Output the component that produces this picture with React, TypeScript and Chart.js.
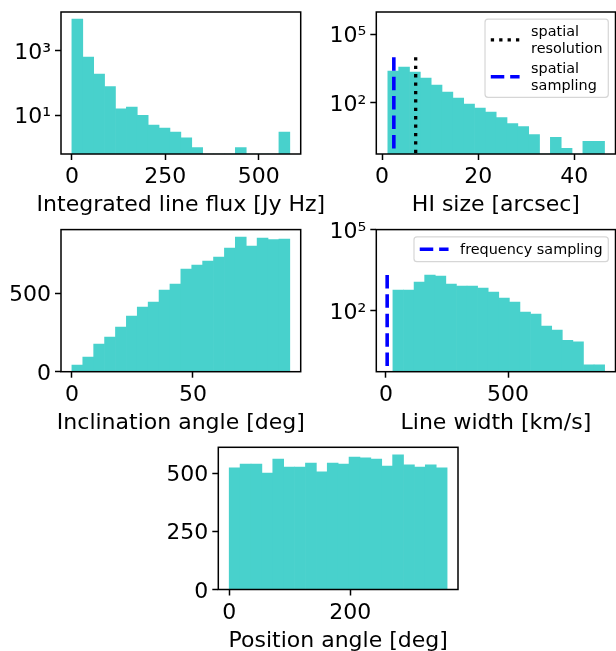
import React, { useEffect, useRef } from 'react';
import { Chart, registerables } from 'chart.js';

Chart.register(...registerables);

// ---------------- data ----------------
// Panel 1: integrated line flux
const fluxBinStart = 0;
const fluxBinWidth = 29.14;
const fluxCounts = [9600, 640, 190, 77, 16, 18, 10, 5, 4, 3, 2, 1, 0, 0, 0, 1, 0, 0, 0, 3];
const fluxXTicks = [0, 250, 500];
const fluxYTicks = [10, 1000];

// Panel 2: HI size
const sizeBinStart = 1.2;
const sizeBinWidth = 2.256;
const sizeCounts = [2455, 3680, 2220, 1210, 597, 294, 160, 87, 58, 39, 22, 12, 9, 4, 0, 3, 1, 0, 2, 2];
const sizeXTicks = [0, 20, 40];
const sizeYTicks = [100, 100000];
const spatialResolution = 7.0;
const spatialSampling = 2.45;
const sizeLineTop = 9800;

// Panel 3: inclination
const inclBinStart = 0;
const inclBinWidth = 4.5;
const inclCounts = [43, 94, 177, 221, 285, 355, 413, 445, 521, 560, 655, 681, 706, 732, 789, 860, 802, 853, 843, 847];
const inclXTicks = [0, 50];
const inclYTicks = [0, 500];

// Panel 4: line width
const widthBinStart = 28.5;
const widthBinWidth = 43.35;
const widthCounts = [582, 582, 1153, 2094, 1923, 972, 820, 820, 691, 491, 294, 209, 89, 75, 27, 19, 8, 7, 1, 1];
const widthXTicks = [0, 500];
const widthYTicks = [100, 100000];
const frequencySampling = 5;
const widthLineTop = 2094;

// Panel 5: position angle
const paBinStart = 0;
const paBinWidth = 18;
const paCounts = [523, 540, 540, 501, 561, 527, 527, 544, 506, 544, 540, 570, 566, 561, 531, 579, 536, 527, 536, 523];
const paXTicks = [0, 200];
const paYTicks = [0, 250, 500];

// ---------------- styling ----------------
const FONT = 'DejaVu Sans';
const TURQ = '#48D1CC';
const W = 616;
const H = 651;
const YW = 50;
const XH = 40;
const SUP: Record<string, string> = { '0': '⁰', '1': '¹', '2': '²', '3': '³', '4': '⁴', '5': '⁵', '6': '⁶', '7': '⁷', '8': '⁸', '9': '⁹', '-': '⁻' };

function histBars(start: number, width: number, counts: number[]) {
  return {
    type: 'bar',
    label: 'counts',
    data: counts.map((c, i) => ({ x: start + (i + 0.5) * width, y: c })),
    backgroundColor: TURQ,
    borderWidth: 0,
    barPercentage: 1,
    categoryPercentage: 1,
    order: 1,
  };
}

function vline(label: string, x: number, y0: number, y1: number, color: string, dash: number[], width: number) {
  return {
    type: 'line',
    label,
    data: [{ x, y: y1 }, { x, y: y0 }],
    borderColor: color,
    borderDash: dash,
    borderWidth: width,
    borderCapStyle: 'butt',
    pointRadius: 0,
    fill: false,
    tension: 0,
    order: 0,
  };
}

const framePlugin = {
  id: 'mplFrame',
  afterDatasetsDraw(chart: any) {
    const { ctx, chartArea: a } = chart;
    ctx.save();
    ctx.strokeStyle = '#000';
    ctx.lineWidth = 1.5;
    ctx.strokeRect(a.left, a.top, a.right - a.left, a.bottom - a.top);
    ctx.restore();
  },
};

const xLabelPlugin = {
  id: 'xLabel',
  afterDraw(chart: any, _args: any, opts: any) {
    if (!opts || !opts.text) return;
    const { ctx, chartArea: a } = chart;
    ctx.save();
    ctx.font = `22px "${FONT}"`;
    ctx.fillStyle = '#000';
    ctx.textAlign = 'center';
    ctx.textBaseline = 'alphabetic';
    ctx.fillText(opts.text, (a.left + a.right) / 2, a.bottom + 57.3);
    ctx.restore();
  },
};

const legendPlugin = {
  id: 'mplLegend',
  afterDatasetsDraw(chart: any, _args: any, opts: any) {
    if (!opts || !opts.display) return;
    const items = chart.data.datasets.filter((d: any) => d.type === 'line');
    if (!items.length) return;
    const { ctx, chartArea: a } = chart;
    const fs = 14.4;
    ctx.save();
    ctx.font = `${fs}px "${FONT}"`;
    const lines = items.map((d: any) => String(d.label).split('\n'));
    let textW = 0;
    lines.forEach((ls: string[]) => ls.forEach((s) => { textW = Math.max(textW, ctx.measureText(s).width); }));
    const pad = 0.4 * fs, handle = 2 * fs, tpad = 0.8 * fs, lsp = 0.5 * fs;
    const lineStep = 16.3;
    const entryH = (n: number) => 13.4 + lineStep * (n - 1);
    const w = pad + handle + tpad + textW + pad;
    let h = pad * 2;
    lines.forEach((ls: string[], i: number) => { h += entryH(ls.length) + (i > 0 ? lsp : 0); });
    const bx = a.right - 0.5 * fs - w;
    const by = a.top + 0.5 * fs;
    const r = 3;
    ctx.beginPath();
    ctx.moveTo(bx + r, by);
    ctx.lineTo(bx + w - r, by);
    ctx.quadraticCurveTo(bx + w, by, bx + w, by + r);
    ctx.lineTo(bx + w, by + h - r);
    ctx.quadraticCurveTo(bx + w, by + h, bx + w - r, by + h);
    ctx.lineTo(bx + r, by + h);
    ctx.quadraticCurveTo(bx, by + h, bx, by + h - r);
    ctx.lineTo(bx, by + r);
    ctx.quadraticCurveTo(bx, by, bx + r, by);
    ctx.closePath();
    ctx.fillStyle = 'rgba(255,255,255,0.8)';
    ctx.fill();
    ctx.strokeStyle = 'rgba(204,204,204,0.8)';
    ctx.lineWidth = 1.2;
    ctx.stroke();
    let ey = by + pad;
    items.forEach((d: any, i: number) => {
      const ls = lines[i];
      const eh = entryH(ls.length);
      const cy = ey + eh / 2;
      ctx.save();
      ctx.beginPath();
      ctx.setLineDash(d.borderDash || []);
      ctx.lineCap = 'butt';
      ctx.strokeStyle = d.borderColor;
      ctx.lineWidth = d.borderWidth;
      ctx.moveTo(bx + pad, cy);
      ctx.lineTo(bx + pad + handle, cy);
      ctx.stroke();
      ctx.restore();
      ctx.fillStyle = '#000';
      ctx.textAlign = 'left';
      ctx.textBaseline = 'alphabetic';
      ls.forEach((s: string, k: number) => {
        ctx.fillText(s, bx + pad + handle + tpad, ey + 11.5 + lineStep * k);
      });
      ey += eh + lsp;
    });
    ctx.restore();
  },
};

type Panel = {
  area: { l: number; t: number; r: number; b: number };
  xLabel: string;
  xMin: number;
  xMax: number;
  xTicks: number[];
  yLog: boolean;
  yMin: number;
  yMax: number;
  yTicks: number[];
  datasets: any[];
  legend: boolean;
};

const FLUX_YMIN = 0.634, FLUX_YMAX = 15780;
const SIZE_YMIN = 0.562, SIZE_YMAX = 950600;
const WIDTH_YMIN = 0.551, WIDTH_YMAX = 100000;

const panels: Panel[] = [
  {
    area: { l: 61, t: 12, r: 300.7, b: 154 },
    xLabel: 'Integrated line flux [Jy Hz]',
    xMin: -29.1, xMax: 611.9, xTicks: fluxXTicks,
    yLog: true, yMin: FLUX_YMIN, yMax: FLUX_YMAX, yTicks: fluxYTicks,
    datasets: [histBars(fluxBinStart, fluxBinWidth, fluxCounts)],
    legend: false,
  },
  {
    area: { l: 376.3, t: 12, r: 615.5, b: 154 },
    xLabel: 'HI size [arcsec]',
    xMin: -1.2, xMax: 48.6, xTicks: sizeXTicks,
    yLog: true, yMin: SIZE_YMIN, yMax: SIZE_YMAX, yTicks: sizeYTicks,
    datasets: [
      vline('spatial\nresolution', spatialResolution, SIZE_YMIN, sizeLineTop, '#000', [3.3, 5.1], 3.3),
      vline('spatial\nsampling', spatialSampling, SIZE_YMIN, sizeLineTop, '#0000ff', [13.5, 5.9], 3.6),
      histBars(sizeBinStart, sizeBinWidth, sizeCounts),
    ],
    legend: true,
  },
  {
    area: { l: 61, t: 229.6, r: 300.7, b: 371.7 },
    xLabel: 'Inclination angle [deg]',
    xMin: -4.5, xMax: 94.5, xTicks: inclXTicks,
    yLog: false, yMin: 0, yMax: 907, yTicks: inclYTicks,
    datasets: [histBars(inclBinStart, inclBinWidth, inclCounts)],
    legend: false,
  },
  {
    area: { l: 376.3, t: 229.6, r: 615.5, b: 371.7 },
    xLabel: 'Line width [km/s]',
    xMin: -39.5, xMax: 940, xTicks: widthXTicks,
    yLog: true, yMin: WIDTH_YMIN, yMax: WIDTH_YMAX, yTicks: widthYTicks,
    datasets: [
      vline('frequency sampling', frequencySampling, WIDTH_YMIN, widthLineTop, '#0000ff', [13.5, 5.9], 3.6),
      histBars(widthBinStart, widthBinWidth, widthCounts),
    ],
    legend: true,
  },
  {
    area: { l: 218.3, t: 447.3, r: 458, b: 589.5 },
    xLabel: 'Position angle [deg]',
    xMin: -18, xMax: 378, xTicks: paXTicks,
    yLog: false, yMin: 0, yMax: 611.7, yTicks: paYTicks,
    datasets: [histBars(paBinStart, paBinWidth, paCounts)],
    legend: false,
  },
];

function logLabel(v: number) {
  const e = String(Math.round(Math.log10(v)));
  return '10' + e.split('').map((c) => SUP[c] || c).join('');
}

function buildConfig(p: Panel): any {
  const tickFont = { family: FONT, size: 22, lineHeight: 1 };
  const grid = {
    display: true,
    drawOnChartArea: false,
    drawTicks: true,
    tickLength: 6,
    tickWidth: 1.5,
    tickColor: '#000',
    offset: false,
  };
  return {
    type: 'bar',
    data: { datasets: p.datasets },
    options: {
      responsive: false,
      animation: false,
      events: [],
      layout: {
        padding: {
          left: p.area.l - YW,
          top: p.area.t,
          right: W - p.area.r,
          bottom: H - p.area.b - XH,
        },
      },
      plugins: {
        legend: { display: false },
        tooltip: { enabled: false },
        title: { display: false },
        xLabel: { text: p.xLabel },
        mplLegend: { display: p.legend },
      },
      scales: {
        x: {
          type: 'linear',
          position: 'bottom',
          min: p.xMin,
          max: p.xMax,
          bounds: 'data',
          offset: false,
          grid,
          border: { display: false },
          ticks: {
            font: tickFont,
            color: '#000',
            padding: 6.3,
            autoSkip: false,
            maxRotation: 0,
            minRotation: 0,
            callback: (v: any) => String(v),
          },
          afterBuildTicks: (s: any) => { s.ticks = p.xTicks.map((v) => ({ value: v })); },
          afterFit: (s: any) => { s.height = XH; s.paddingLeft = 0; s.paddingRight = 0; },
        },
        y: {
          type: p.yLog ? 'logarithmic' : 'linear',
          position: 'left',
          min: p.yMin,
          max: p.yMax,
          bounds: 'data',
          grid,
          border: { display: false },
          ticks: {
            font: tickFont,
            color: '#000',
            padding: 4,
            labelOffset: 2.3,
            autoSkip: false,
            callback: (v: any) => (p.yLog ? logLabel(Number(v)) : String(v)),
          },
          afterBuildTicks: (s: any) => { s.ticks = p.yTicks.map((v) => ({ value: v })); },
          afterFit: (s: any) => { s.width = YW; s.paddingTop = 0; s.paddingBottom = 0; },
        },
      },
    },
    plugins: [framePlugin, legendPlugin, xLabelPlugin],
  };
}

export default function App() {
  const refs = useRef<(HTMLCanvasElement | null)[]>([]);

  useEffect(() => {
    const charts: Chart[] = [];
    panels.forEach((p, i) => {
      const c = refs.current[i];
      if (!c) return;
      charts.push(new Chart(c, buildConfig(p)));
    });
    return () => charts.forEach((ch) => ch.destroy());
  }, []);

  return (
    <div style={{ position: 'absolute', left: 0, top: 0, width: W, height: H, background: '#fff', overflow: 'hidden' }}>
      {panels.map((p, i) => (
        <canvas
          key={i}
          ref={(el) => { refs.current[i] = el; }}
          width={W}
          height={H}
          style={{ position: 'absolute', left: 0, top: 0, width: W, height: H }}
        />
      ))}
    </div>
  );
}
